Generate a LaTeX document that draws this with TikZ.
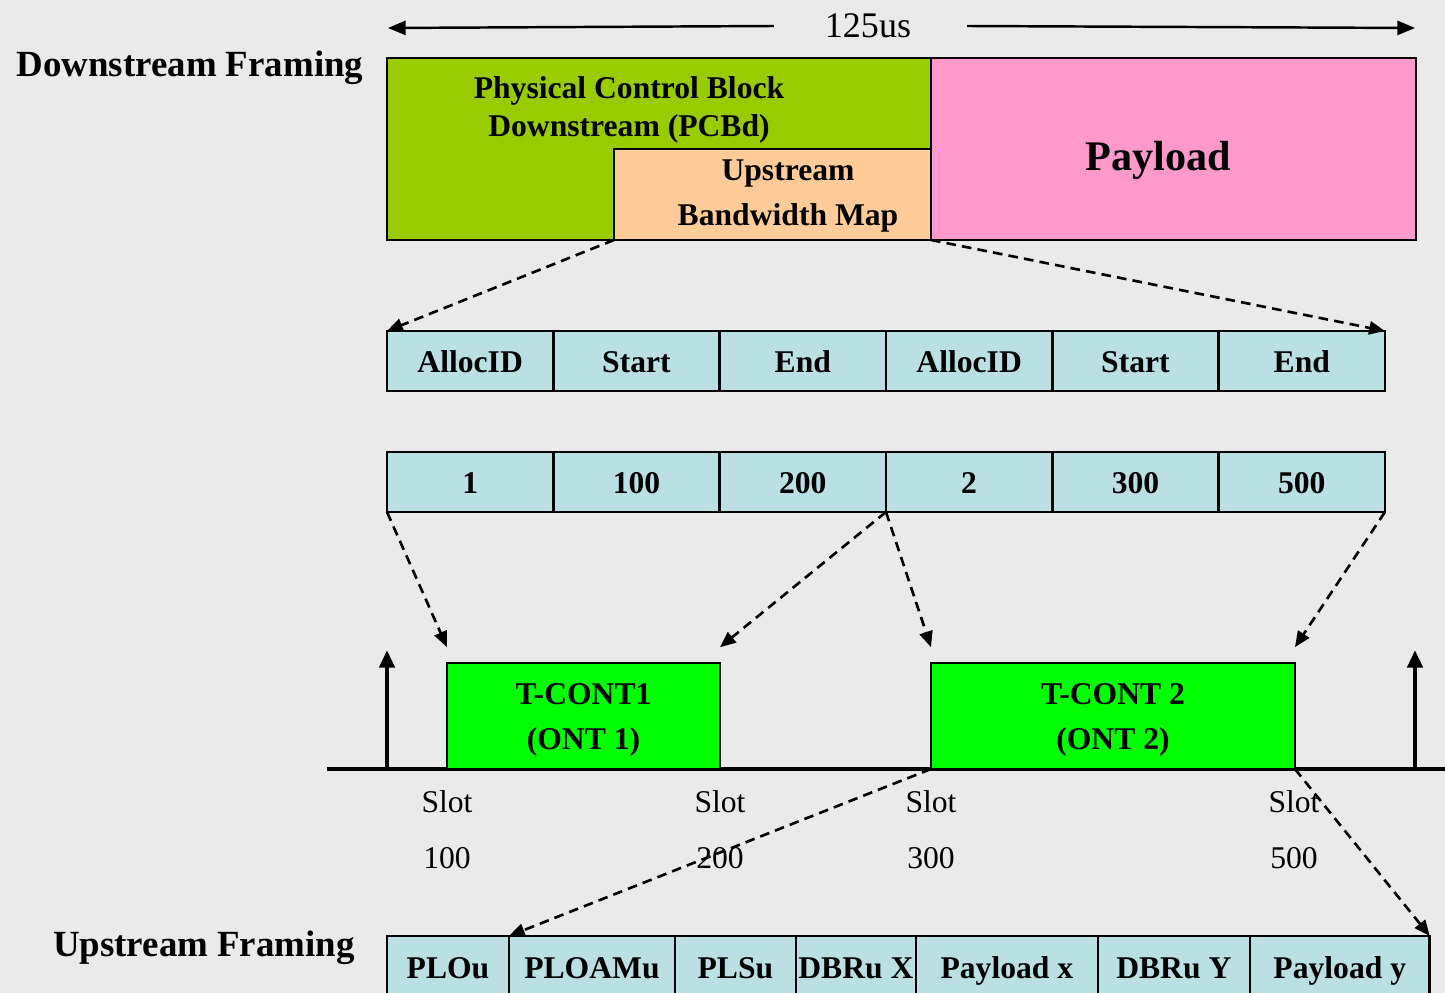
\documentclass[tikz,border=0pt]{standalone}
\usepackage{fontspec}
\setmainfont{Liberation Serif}
\usetikzlibrary{arrows.meta,positioning}

\definecolor{bgGray}{HTML}{EAEAEA}
\definecolor{pcbGreen}{HTML}{99CC00}
\definecolor{mapPeach}{HTML}{FFCC99}
\definecolor{payPink}{HTML}{FF99CC}
\definecolor{cellBlue}{HTML}{BBE0E3}
\definecolor{tcGreen}{HTML}{00FF00}

\tikzset{
  blk/.style={draw, line width=1.5pt, inner sep=0pt, outer sep=0pt, anchor=north west},
  cell/.style={blk, fill=cellBlue, minimum height=1.2cm, text height=16pt, text depth=3pt,
               font=\fontsize{18}{21.6}\selectfont\bfseries},
  boldlbl/.style={align=center, font=\fontsize{18}{#1}\selectfont\bfseries},
  slotlbl/.style={align=center, font=\fontsize{18}{32}\selectfont},
  map/.style={line width=1.5pt, dash pattern=on 5.5pt off 3.5pt, -{Triangle[length=9pt,width=7.5pt]}},
  timeline/.style={line width=1.4pt, -{Triangle[length=10pt,width=8pt]}},
  pulse/.style={line width=2.6pt, -{Triangle[length=10pt,width=8.5pt]}},
}

\begin{document}
\begin{tikzpicture}[x=0.02cm, y=-0.02cm]
        \useasboundingbox (0,0) rectangle (1445,993);
        \fill[bgGray] (0,0) rectangle (1445,993);
        \clip (0,0) rectangle (1445,993);

        % downstream frame
        \node[font=\fontsize{21}{25}\selectfont\bfseries] (dstitle) at (190,68) {Downstream Framing};
        \node[font=\fontsize{20.5}{24}\selectfont] (period) at (868,26) {125us};
        \draw[timeline] ([xshift=-0.9cm]period.west) -- (388,28);
        \draw[timeline] ([xshift=1cm]period.east) -- (1415,28);

        \node[blk, fill=pcbGreen, minimum width=10.88cm, minimum height=3.64cm] (pcbd) at (387,58) {};
        \node[blk, fill=payPink, minimum width=9.7cm, minimum height=3.64cm] (payload) at (931,58) {};
        \node[blk, fill=mapPeach, minimum width=6.34cm, minimum height=1.82cm] (bwmap) at (614,149) {};
        \node[boldlbl=21.6] (pcbdlbl) at (629,110) {Physical Control Block\\Downstream (PCBd)};
        \node[boldlbl=25.5] (bwlbl) at (788,196) {Upstream\\Bandwidth Map};
        \node[font=\fontsize{24}{28}\selectfont\bfseries] (paylbl) at (1158,160) {Payload};

        % bandwidth map fields
        \foreach \lbl [count=\i] in {AllocID,Start,End,AllocID,Start,End}
            \node[cell, minimum width=3.327cm] (h\i) at ({387+(\i-1)*166.33},331) {\lbl};
        \foreach \lbl [count=\i] in {1,100,200,2,300,500}
            \node[cell, minimum width=3.327cm] (v\i) at ({387+(\i-1)*166.33},452) {\lbl};

        \draw[map] (bwmap.south west) -- (h1.north west);
        \draw[map] (bwmap.south east) -- (h6.north east);

        % upstream time line
        \coordinate (axisL) at (327,769);
        \coordinate (axisR) at (1445,769);
        \draw[line width=2.8pt] (axisL) -- (axisR);
        \draw[pulse] (387,770) -- (387,650);
        \draw[pulse] (1415,770) -- (1415,650);

        \node[blk, fill=tcGreen, minimum width=5.46cm, minimum height=2.12cm] (tc1) at (447,663) {};
        \node[blk, fill=tcGreen, minimum width=7.28cm, minimum height=2.12cm] (tc2) at (931,663) {};
        \node[boldlbl=26] (tc1lbl) at ([yshift=-2.3pt]tc1.center) {T-CONT1\\(ONT 1)};
        \node[boldlbl=26] (tc2lbl) at ([yshift=-2.3pt]tc2.center) {T-CONT 2\\(ONT 2)};

        \node[slotlbl] (s100) at (447,830) {Slot\\100};
        \node[slotlbl] (s200) at (720,830) {Slot\\200};
        \node[slotlbl] (s300) at (931,830) {Slot\\300};
        \node[slotlbl] (s500) at (1294,830) {Slot\\500};

        \draw[map] (v1.south west) -- ([yshift=9pt]tc1.north west);
        \draw[map] (v3.south east) -- ([yshift=9pt]tc1.north east);
        \draw[map] (v4.south west) -- ([yshift=9pt]tc2.north west);
        \draw[map] (v6.south east) -- ([yshift=9pt]tc2.north east);

        % upstream frame
        \node[font=\fontsize{21}{25}\selectfont\bfseries] (ustitle) at (204,948) {Upstream Framing};
        \node[cell, minimum width=2.44cm, minimum height=1.26cm] (u1) at (387,936) {PLOu};
        \node[cell, minimum width=3.32cm, minimum height=1.26cm, right=0pt of u1] (u2) {PLOAMu};
        \node[cell, minimum width=2.42cm, minimum height=1.26cm, right=0pt of u2] (u3) {PLSu};
        \node[cell, minimum width=2.4cm, minimum height=1.26cm, right=0pt of u3] (u4) {DBRu X};
        \node[cell, minimum width=3.64cm, minimum height=1.26cm, right=0pt of u4] (u5) {Payload x};
        \node[cell, minimum width=3.04cm, minimum height=1.26cm, right=0pt of u5] (u6) {DBRu Y};
        \node[cell, minimum width=3.6cm, minimum height=1.26cm, right=0pt of u6] (u7) {Payload y};

        \draw[map] (tc2.south west) -- (u2.north west);
        \draw[map] (tc2.south east) -- (u7.north east);
    \end{tikzpicture}
\end{document}
